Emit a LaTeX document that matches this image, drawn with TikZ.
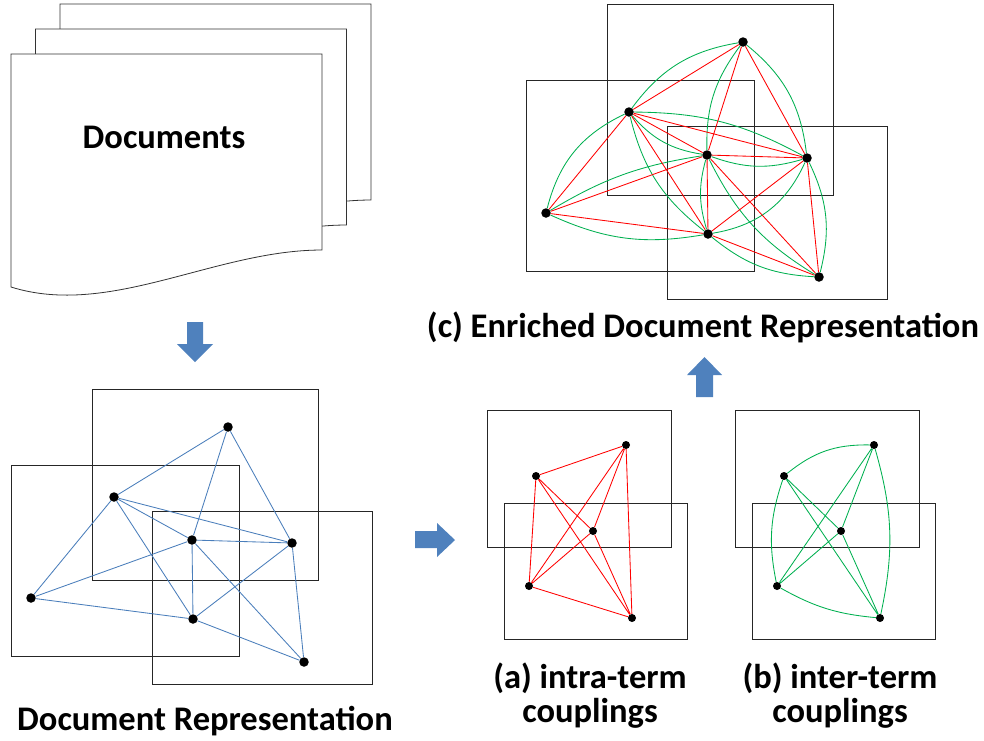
\documentclass[tikz,border=0pt]{standalone}
\usepackage{fontspec}
\setmainfont{Carlito}
\definecolor{officeblue}{HTML}{4F81BD}
\definecolor{edgeblue}{HTML}{4A7EBB}
\definecolor{cgreen}{HTML}{00B050}
\definecolor{cred}{HTML}{FF0000}
\begin{document}
\begin{tikzpicture}[x=1pt,y=1pt,
  frame/.style={draw=black!85, line width=0.9pt},
  dotnode/.style={circle, fill=black, inner sep=0pt, minimum size=9.5pt},
  smalldot/.style={circle, fill=black, inner sep=0pt, minimum size=8pt},
  bedge/.style={draw=edgeblue, line width=0.85pt},
  redge/.style={draw=cred, line width=0.85pt},
  gedge/.style={draw=cgreen, line width=0.85pt},
  bigarrow/.style={fill=officeblue, draw=none},
  lbl/.style={font=\fontsize{34.5}{40}\selectfont\bfseries, inner sep=0pt, anchor=base},
  docpage/.pic={\draw[draw=black!80, line width=0.8pt, fill=white] (0,0) -- (311,0) -- (311,-196)
     .. controls (204,-196) and (99,-264) .. (0,-233) -- cycle;}
]
\useasboundingbox (0,0) rectangle (984,-740);

% ---------- Documents ----------
\pic at (60,-4) {docpage};
\pic at (35.5,-29) {docpage};
\pic at (11,-54) {docpage};
\node[lbl] (doctitle) at (164,-148) {Documents};

% ---------- arrows ----------
\fill[bigarrow] (187,-322) -- (203,-322) -- (203,-344) -- (213,-344) -- (195,-362) -- (177,-344) -- (187,-344) -- cycle;
\fill[bigarrow] (415,-531) -- (437,-531) -- (437,-523) -- (455,-540) -- (437,-557) -- (437,-548) -- (415,-548) -- cycle;
\fill[bigarrow] (696,-397) -- (696,-375) -- (687,-375) -- (704.5,-357) -- (722,-375) -- (713,-375) -- (713,-397) -- cycle;

% ---------- Document Representation ----------
\draw[frame] (92,-389) rectangle (318,-580);
\draw[frame] (11,-465) rectangle (239,-656);
\draw[frame] (152,-511) rectangle (372,-684);
\node[dotnode] (n1) at (228,-427) {};
\node[dotnode] (n2) at (114,-497) {};
\node[dotnode] (n3) at (192,-540) {};
\node[dotnode] (n4) at (292,-543) {};
\node[dotnode] (n5) at (31,-598) {};
\node[dotnode] (n6) at (193,-619) {};
\node[dotnode] (n7) at (304,-662) {};
\draw[bedge] (n1) -- (n2) (n1) -- (n3) (n1) -- (n4)
  (n2) -- (n3) (n2) -- (n4) (n2) -- (n5) (n2) -- (n6)
  (n3) -- (n4) (n3) -- (n5) (n3) -- (n6) (n3) -- (n7)
  (n4) -- (n6) (n4) -- (n7) (n5) -- (n6) (n6) -- (n7);
\node[lbl] (drtitle) at (205,-730) {Document Representation};

% ---------- Enriched Document Representation ----------
\draw[frame] (607,-4) rectangle (833,-195);
\draw[frame] (526,-80) rectangle (754,-271);
\draw[frame] (667,-126) rectangle (887,-299);
\node[dotnode] (e1) at (743,-42) {};
\node[dotnode] (e2) at (629,-112) {};
\node[dotnode] (e3) at (707,-155) {};
\node[dotnode] (e4) at (807,-158) {};
\node[dotnode] (e5) at (546,-213) {};
\node[dotnode] (e6) at (708,-234) {};
\node[dotnode] (e7) at (819,-277) {};
\draw[gedge] (e1) to[bend right=22] (e2);
\draw[gedge] (e1) to[bend right=19] (e3);
\draw[gedge] (e1) to[bend left=22] (e4);
\draw[gedge] (e2) to[bend left=14] (e4);
\draw[gedge] (e2) to[bend right=20] (e3);
\draw[gedge] (e2) to[bend right=25] (e5);
\draw[gedge] (e2) to[bend right=19] (e6);
\draw[gedge] (e3) to[bend right=11] (e5);
\draw[gedge] (e3) to[bend right=18] (e4);
\draw[gedge] (e3) to[bend right=16] (e6);
\draw[gedge] (e3) to[bend right=16] (e7);
\draw[gedge] (e4) to[bend left=28] (e6);
\draw[gedge] (e4) to[bend left=20] (e7);
\draw[gedge] (e5) to[bend right=17] (e6);
\draw[gedge] (e6) to[bend right=18] (e7);
\draw[redge] (e1) -- (e2) (e1) -- (e3) (e1) -- (e4)
  (e2) -- (e3) (e2) -- (e4) (e2) -- (e5) (e2) -- (e6)
  (e3) -- (e4) (e3) -- (e5) (e3) -- (e6) (e3) -- (e7)
  (e4) -- (e6) (e4) -- (e7) (e5) -- (e6) (e6) -- (e7);
\node[lbl] (ctitle) at (703,-337) {(c) Enriched Document Representation};

% ---------- (a) intra-term ----------
\draw[frame] (487,-410) rectangle (671,-547);
\draw[frame] (504,-503) rectangle (687,-639);
\node[smalldot] (a1) at (536,-476) {};
\node[smalldot] (a2) at (626,-445) {};
\node[smalldot] (a3) at (593,-531) {};
\node[smalldot] (a4) at (529,-586) {};
\node[smalldot] (a5) at (632,-618) {};
\draw[redge] (a1) -- (a2) (a1) -- (a3) (a1) -- (a4) (a1) -- (a5)
  (a2) -- (a3) (a2) -- (a4) (a2) -- (a5)
  (a3) -- (a4) (a3) -- (a5) (a4) -- (a5);
\node[lbl] (atitle1) at (590,-688) {(a) intra-term};
\node[lbl] (atitle2) at (590,-722) {couplings};

% ---------- (b) inter-term ----------
\draw[frame] (735,-410) rectangle (919,-547);
\draw[frame] (752,-503) rectangle (935,-639);
\node[smalldot] (b1) at (784,-476) {};
\node[smalldot] (b2) at (874,-445) {};
\node[smalldot] (b3) at (841,-531) {};
\node[smalldot] (b4) at (777,-586) {};
\node[smalldot] (b5) at (880,-618) {};
\draw[gedge] (b1) to[bend left=20] (b2);
\draw[gedge] (b1) to[bend right=15] (b4);
\draw[gedge] (b2) to[bend left=14] (b5);
\draw[gedge] (b4) to[bend right=12] (b5);
\draw[gedge] (b1) -- (b3) (b1) -- (b5) (b2) -- (b3) (b2) -- (b4)
  (b3) -- (b4) (b3) -- (b5);
\node[lbl] (btitle1) at (840,-688) {(b) inter-term};
\node[lbl] (btitle2) at (840,-722) {couplings};
\end{tikzpicture}
\end{document}
